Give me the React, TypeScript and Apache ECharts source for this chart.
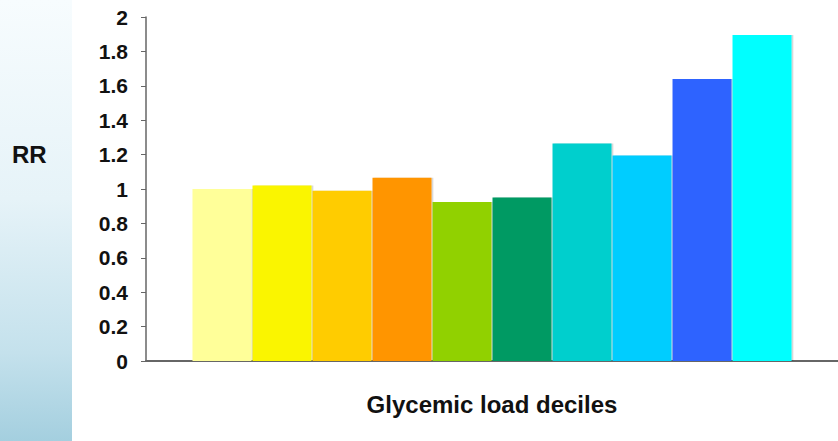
import React, { useEffect, useRef } from "react";
import * as echarts from "echarts";

const deciles = ["1", "2", "3", "4", "5", "6", "7", "8", "9", "10"];
const rrValues = [1.0, 1.02, 0.99, 1.065, 0.925, 0.95, 1.265, 1.195, 1.64, 1.895];
const barColors = [
  "#FFFF99",
  "#FAF500",
  "#FFCC00",
  "#FF9500",
  "#91D100",
  "#009A64",
  "#00CFCD",
  "#00CDFF",
  "#2F63FF",
  "#00FFFF",
];
const yTicks = { min: 0, max: 2, interval: 0.2 };
const xTitle = "Glycemic load deciles";
const yTitle = "RR";

export default function App() {
  const ref = useRef<HTMLDivElement>(null);
  useEffect(() => {
    document.body.style.margin = "0";
    const chart = echarts.init(ref.current!, null, { renderer: "svg" });
    const font = "'Liberation Sans', Arial, sans-serif";
    chart.setOption({
      animation: false,
      backgroundColor: "#ffffff",
      graphic: [
        {
          type: "rect",
          z: -10,
          shape: { x: 0, y: 0, width: 72, height: 441 },
          style: {
            fill: new echarts.graphic.LinearGradient(0, 0, 0, 1, [
              { offset: 0, color: "#f7fcfe" },
              { offset: 0.45, color: "#e6f3f8" },
              { offset: 0.8, color: "#c4e1ec" },
              { offset: 1, color: "#a4cfdf" },
            ]),
          },
        },
        {
          type: "text",
          x: 12,
          y: 154,
          style: {
            text: yTitle,
            font: `bold 24px ${font}`,
            fill: "#111",
            verticalAlign: "middle",
          },
        },
      ],
      grid: { left: 146, right: 0, top: 17, bottom: 80, containLabel: false },
      xAxis: {
        type: "category",
        data: [""],
        axisLine: { show: true, lineStyle: { color: "#666", width: 2 } },
        axisTick: { show: false },
        axisLabel: { show: false },
        name: xTitle,
        nameLocation: "middle",
        nameGap: 31,
        nameTextStyle: {
          fontFamily: font,
          fontWeight: "bold",
          fontSize: 24,
          color: "#111",
        },
      },
      yAxis: {
        type: "value",
        min: yTicks.min,
        max: yTicks.max,
        interval: yTicks.interval,
        axisLine: { show: true, lineStyle: { color: "#666", width: 1.5 } },
        axisTick: { show: true, length: 5, lineStyle: { color: "#666" } },
        splitLine: { show: false },
        axisLabel: {
          margin: 18,
          fontFamily: font,
          fontWeight: "bold",
          fontSize: 21,
          color: "#111",
        },
      },
      series: deciles.map((d, i) => ({
        name: d,
        type: "bar",
        data: [rrValues[i]],
        barWidth: 59,
        barGap: "1.7%",
        itemStyle: {
          color: barColors[i],
          shadowColor: "rgba(0,0,0,0.2)",
          shadowOffsetX: 1.5,
          shadowBlur: 1,
        },
      })),
    });
    return () => chart.dispose();
  }, []);
  return (
    <div
      ref={ref}
      style={{ position: "fixed", left: 0, top: 0, width: 838, height: 441 }}
    />
  );
}
